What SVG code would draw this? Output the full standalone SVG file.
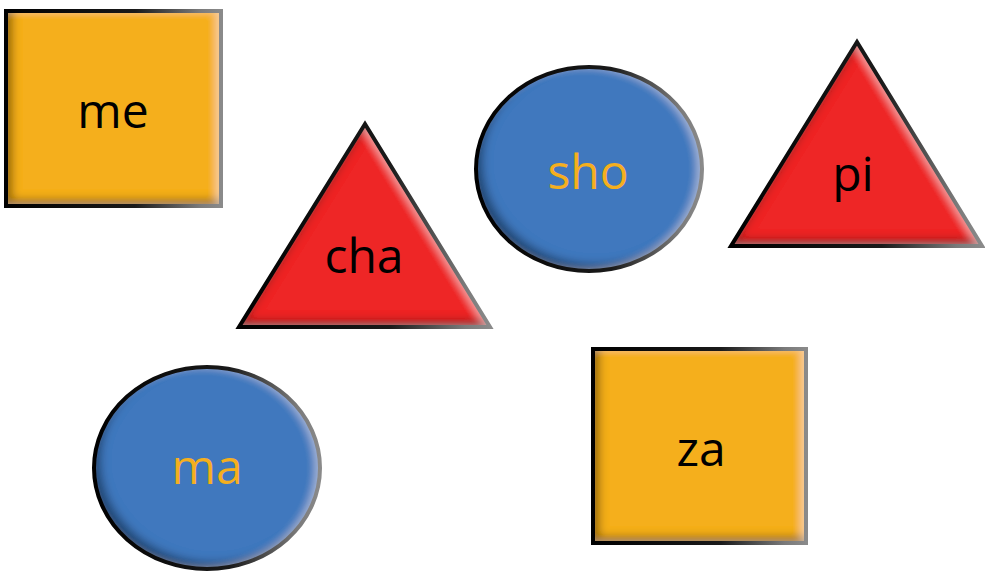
<svg xmlns="http://www.w3.org/2000/svg" width="985" height="572" viewBox="0 0 985 572">
<defs>
<linearGradient id="edge" x1="0" y1="0" x2="1" y2="0">
<stop offset="0" stop-color="#000"/>
<stop offset="0.6" stop-color="#1a1a1a"/>
<stop offset="0.9" stop-color="#7a7a7a"/>
<stop offset="1" stop-color="#8a8a8a"/>
</linearGradient>
<filter id="bevel" x="-5%" y="-5%" width="110%" height="110%">
<feGaussianBlur in="SourceAlpha" stdDeviation="4" result="b"/>
<feOffset in="b" dx="7" dy="-7" result="o1"/>
<feComposite in="SourceAlpha" in2="o1" operator="out" result="e1"/>
<feFlood flood-color="#000" flood-opacity="0.65"/>
<feComposite in2="e1" operator="in" result="dark"/>
<feOffset in="b" dx="-5" dy="0" result="o2"/>
<feComposite in="SourceAlpha" in2="o2" operator="out" result="e2"/>
<feFlood flood-color="#fff" flood-opacity="0.35"/>
<feComposite in2="e2" operator="in" result="light"/>
<feMerge><feMergeNode in="SourceGraphic"/><feMergeNode in="dark"/><feMergeNode in="light"/></feMerge>
</filter>
</defs>
<style>
.sq{fill:#F5AF1E;filter:url(#bevel)}
.tri{fill:#EE2528;filter:url(#bevel)}
.ell{fill:#3F78BE;filter:url(#bevel)}
.out{fill:none;stroke:url(#edge);stroke-width:4;stroke-linejoin:miter}
.lbl{font-family:"Open Sans","Liberation Sans",sans-serif;font-size:48px;text-anchor:middle;fill:#000}
.lbl.o{fill:#F5AF1E}
</style>
<rect width="985" height="572" fill="#fff"/>
<g id="connectors"/>
<g id="node-me">
<rect class="sq" x="6" y="11" width="215" height="195"/>
<rect class="out" x="6" y="11" width="215" height="195"/>
<text class="lbl" x="113" y="128">me</text>
</g>
<g id="node-cha">
<polygon class="tri" points="365,124 239,327 490,327"/>
<polygon class="out" points="365,124 239,327 490,327"/>
<text class="lbl" x="364" y="273">cha</text>
</g>
<g id="node-sho">
<ellipse class="ell" cx="589" cy="169" rx="113" ry="102"/>
<ellipse class="out" cx="589" cy="169" rx="113" ry="102"/>
<text class="lbl o" x="588" y="189">sho</text>
</g>
<g id="node-pi">
<polygon class="tri" points="857,42 731,246 982,246"/>
<polygon class="out" points="857,42 731,246 982,246"/>
<text class="lbl" x="853" y="191">pi</text>
</g>
<g id="node-ma">
<ellipse class="ell" cx="207" cy="468" rx="113" ry="101"/>
<ellipse class="out" cx="207" cy="468" rx="113" ry="101"/>
<text class="lbl o" x="207" y="484">ma</text>
</g>
<g id="node-za">
<rect class="sq" x="593" y="349" width="213" height="194"/>
<rect class="out" x="593" y="349" width="213" height="194"/>
<text class="lbl" x="701" y="466">za</text>
</g>
</svg>
